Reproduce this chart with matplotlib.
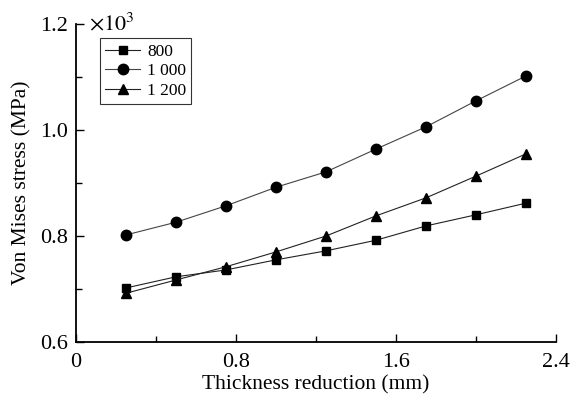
import matplotlib.pyplot as plt
from matplotlib.ticker import MultipleLocator

plt.rcParams['font.family'] = ['Liberation Serif', 'DejaVu Serif']
plt.rcParams['mathtext.fontset'] = 'stix'

# thickness reduction (mm)
thickness = [0.25, 0.5, 0.75, 1.0, 1.25, 1.5, 1.75, 2.0, 2.25]
# von Mises stress (x10^3 MPa)
s800 = [0.702, 0.723, 0.736, 0.755, 0.772, 0.792, 0.819, 0.840, 0.862]
s1000 = [0.802, 0.826, 0.857, 0.892, 0.921, 0.964, 1.006, 1.055, 1.102]
s1200 = [0.692, 0.717, 0.742, 0.770, 0.800, 0.838, 0.872, 0.913, 0.955]
labels = ['800', '1 000', '1 200']

fig = plt.figure(figsize=(5.7, 3.96), dpi=100)
ax = fig.add_axes([76 / 570, 54 / 396, 480 / 570, 318 / 396])

ax.plot(thickness, s800, marker='s', ms=6, color='#222222', mfc='black', mec='black', lw=0.8, label=labels[0])
ax.plot(thickness, s1000, marker='o', ms=7.5, color='#444444', mfc='black', mec='black', lw=0.8, label=labels[1])
ax.plot(thickness, s1200, marker='^', ms=7.5, color='#222222', mfc='black', mec='black', lw=0.8, label=labels[2])

ax.set_xlim(0, 2.4)
ax.set_ylim(0.6, 1.2)
ax.xaxis.set_minor_locator(MultipleLocator(0.4))
ax.yaxis.set_minor_locator(MultipleLocator(0.1))
ax.set_xticks([0, 0.8, 1.6, 2.4])
ax.set_xticklabels(['0', '0.8', '1.6', '2.4'])
ax.set_yticks([0.6, 0.8, 1.0, 1.2])
ax.set_yticklabels(['0.6', '0.8', '1.0', '1.2'])

ax.tick_params(which='both', direction='in', labelsize=16, width=1)
ax.tick_params(which='major', length=6)
ax.tick_params(axis='x', which='major', pad=8)
ax.tick_params(axis='y', which='major', pad=6)
ax.tick_params(which='minor', length=4)
for side in ['top', 'right']:
    ax.spines[side].set_visible(False)
for side in ['left', 'bottom']:
    ax.spines[side].set_linewidth(1.3)

ax.set_xlabel('Thickness reduction (mm)', fontsize=15.5, labelpad=2)
ax.set_ylabel('Von Mises stress (MPa)', fontsize=15.5, labelpad=6)
ax.text(0.028, 1.0, r'$\times 10^3$', transform=ax.transAxes, fontsize=16,
        va='center', ha='left')

leg = ax.legend(loc='upper left', bbox_to_anchor=(0.05, 0.955), fontsize=12.5,
                frameon=True, fancybox=False, edgecolor='black',
                handlelength=2.0, borderpad=0.3, labelspacing=0.2,
                handletextpad=0.4, borderaxespad=0)
leg.get_frame().set_linewidth(0.8)

fig.savefig('out.png', dpi=100)
